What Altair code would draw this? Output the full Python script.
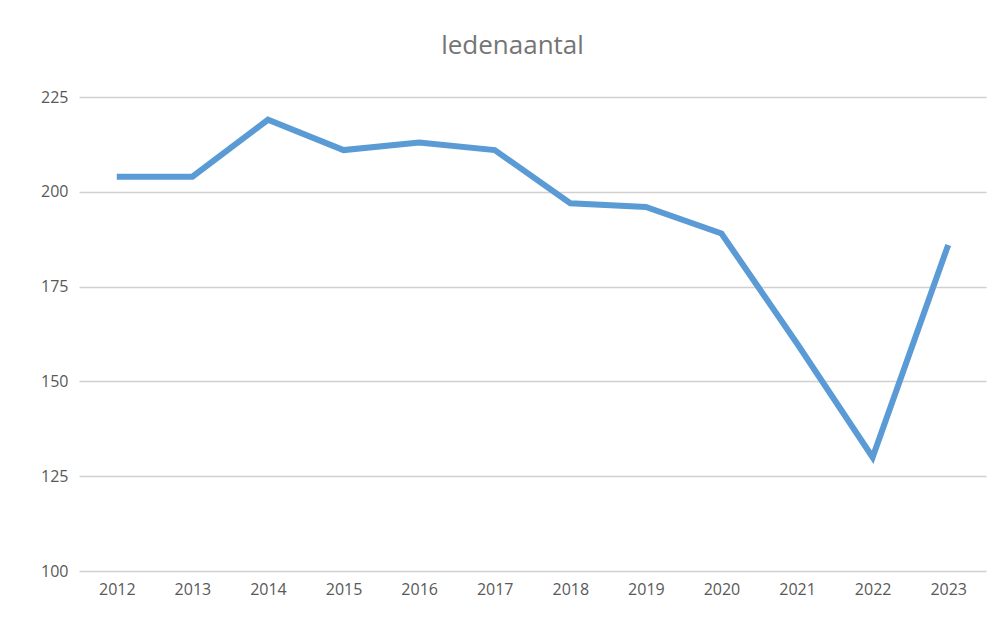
import altair as alt
import pandas as pd

years = ["2012", "2013", "2014", "2015", "2016", "2017", "2018", "2019", "2020", "2021", "2022", "2023"]
members = [204, 204, 219, 211, 213, 211, 197, 196, 189, 160, 130, 186]
y_ticks = [100, 125, 150, 175, 200, 225]

df = pd.DataFrame({"jaar": years, "leden": members})

FONT = "Open Sans"

chart = alt.Chart(df).mark_line(
    color="#5B9BD5", strokeWidth=6, strokeCap="butt", strokeJoin="miter"
).encode(
    x=alt.X("jaar:O", sort=years, title=None,
            scale=alt.Scale(type="point", padding=0.5),
            axis=alt.Axis(labelAngle=0, domain=False, ticks=False, grid=False,
                          labelFont=FONT, labelFontSize=16, labelColor="#595959",
                          labelPadding=10)),
    y=alt.Y("leden:Q", title=None,
            scale=alt.Scale(domain=[100, 225], nice=False, zero=False),
            axis=alt.Axis(values=y_ticks, domain=False, ticks=False,
                          gridColor="#d0d0d0", gridWidth=1.5,
                          labelFont=FONT, labelFontSize=16, labelColor="#595959",
                          labelPadding=11)),
).properties(
    width=907,
    height=474,
    background="white",
    title=alt.TitleParams("ledenaantal", font=FONT, fontSize=26, fontWeight="normal",
                          color="#757575", anchor="middle", dx=-20, offset=30),
    autosize=alt.AutoSizeParams(type="none"),
    padding={"left": 71, "top": 89, "right": 8, "bottom": 44},
).configure_view(stroke=None)

chart.save("out.html", embed_options={"renderer": "svg", "actions": False})
